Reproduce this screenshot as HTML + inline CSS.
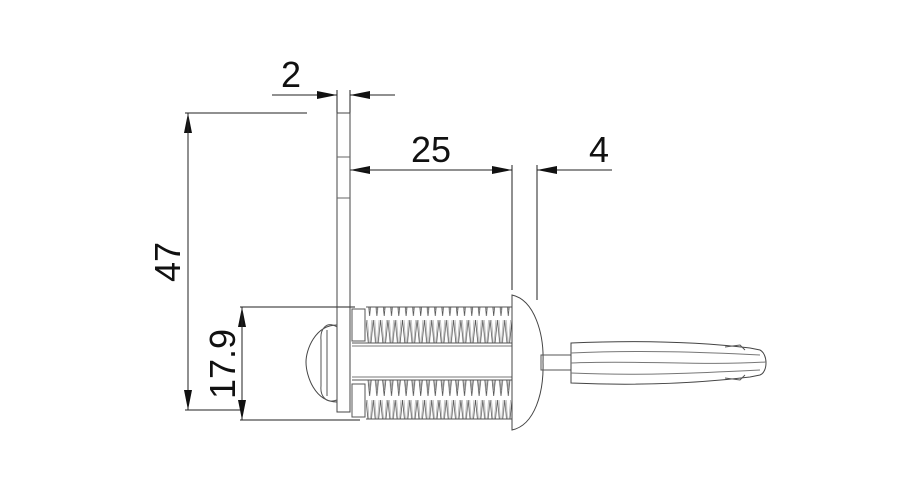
<!DOCTYPE html>
<html><head><style>html,body{margin:0;padding:0;background:#fff;}svg{display:block}</style></head>
<body>
<svg width="900" height="500" viewBox="0 0 900 500" xmlns="http://www.w3.org/2000/svg">
<defs>
<marker id="a" viewBox="0 0 10 4" refX="10" refY="2" markerWidth="22" markerHeight="8" markerUnits="userSpaceOnUse" orient="auto"><path d="M0,0L10,2L0,4z" fill="#111"/></marker>
<pattern id="th" x="366" y="0" width="7.3" height="40" patternUnits="userSpaceOnUse">
<path d="M0,0 L3.6,36 L7.3,0" fill="none" stroke="#555" stroke-width="0.8"/>
<path d="M1.5,0 L3.6,30 L5.8,0" fill="none" stroke="#999" stroke-width="0.6"/>
</pattern>
</defs>
<g stroke="#222" stroke-width="1" fill="none">
<!-- dimension 2 -->
<line x1="272" y1="95" x2="337" y2="95" marker-end="url(#a)"/>
<line x1="395" y1="95" x2="350" y2="95" marker-end="url(#a)"/>
<line x1="337" y1="90" x2="337" y2="113"/><line x1="350" y1="90" x2="350" y2="113"/>
<!-- 47 -->
<line x1="185" y1="113" x2="307" y2="113"/>
<line x1="188" y1="410" x2="188" y2="113" marker-end="url(#a)"/>
<line x1="188" y1="113" x2="188" y2="410" marker-end="url(#a)"/>
<line x1="185" y1="410" x2="240" y2="410"/>
<!-- 17.9 -->
<line x1="240" y1="307" x2="355" y2="307"/>
<line x1="240" y1="420" x2="360" y2="420"/>
<line x1="242" y1="420" x2="242" y2="307" marker-end="url(#a)"/>
<line x1="242" y1="307" x2="242" y2="420" marker-end="url(#a)"/>
<!-- 25 & 4 -->
<line x1="512" y1="170" x2="350" y2="170" marker-end="url(#a)"/>
<line x1="350" y1="170" x2="512" y2="170" marker-end="url(#a)"/>
<line x1="612" y1="170" x2="537" y2="170" marker-end="url(#a)"/>
<line x1="512" y1="165" x2="512" y2="290"/><line x1="537" y1="165" x2="537" y2="300"/>
<!-- plate -->
<rect x="337" y="113" width="13" height="299" stroke="#444"/>
<line x1="337" y1="157" x2="350" y2="157" stroke="#666"/>
<line x1="337" y1="198" x2="350" y2="198" stroke="#666"/>
<!-- knob left -->
<path d="M337,325 C315,325 306,350 306,362 C306,376 315,402 337,402" stroke="#444"/>
<path d="M337,327 C326,320 320,330 321,340 L321,386 C320,396 326,404 337,400" stroke="#555"/>
<line x1="327" y1="330" x2="327" y2="396" stroke="#555"/>
<!-- washers -->
<rect x="352" y="309" width="13" height="32" stroke="#555"/>
<rect x="352" y="384" width="13" height="33" stroke="#555"/>
<!-- threads -->
<rect x="366" y="307" width="146" height="36" fill="url(#th)" stroke="none"/>
<rect x="366" y="380" width="146" height="39" fill="url(#th)" stroke="none"/>
<line x1="366" y1="307" x2="512" y2="307" stroke="#555"/>
<line x1="352" y1="343" x2="512" y2="343" stroke="#555"/>
<line x1="352" y1="346" x2="512" y2="346" stroke="#777"/>
<line x1="352" y1="377" x2="512" y2="377" stroke="#777"/>
<line x1="352" y1="380" x2="512" y2="380" stroke="#555"/>
<line x1="366" y1="419" x2="512" y2="419" stroke="#555"/>
<!-- dome -->
<path d="M512,295 C535,300 544,335 543,362 C544,392 535,425 512,430 Z" stroke="#444"/>
<!-- stem & key -->
<rect x="541" y="355" width="30" height="15" stroke="#555"/>
<path d="M571,343 C640,340 700,342 750,348 L760,350 C768,354 768,372 760,375 L750,377 C700,383 640,386 571,383 Z" stroke="#444"/>
<path d="M571,353 C640,350 700,352 760,355 M571,373 C640,376 700,373 760,370 M571,363 C640,360 700,366 766,362" stroke="#777"/>
<path d="M725,347 L740,345 L745,350 M725,378 L740,380 L745,375" stroke="#555"/>
</g>
<g font-family="Liberation Sans, sans-serif" font-size="36" fill="#111" text-anchor="middle">
<text x="291" y="87">2</text>
<text x="431" y="162">25</text>
<text x="599" y="162">4</text>
<text transform="translate(180,262) rotate(-90)">47</text>
<text transform="translate(235,364) rotate(-90)">17.9</text>
</g>
</svg>
</body></html>
